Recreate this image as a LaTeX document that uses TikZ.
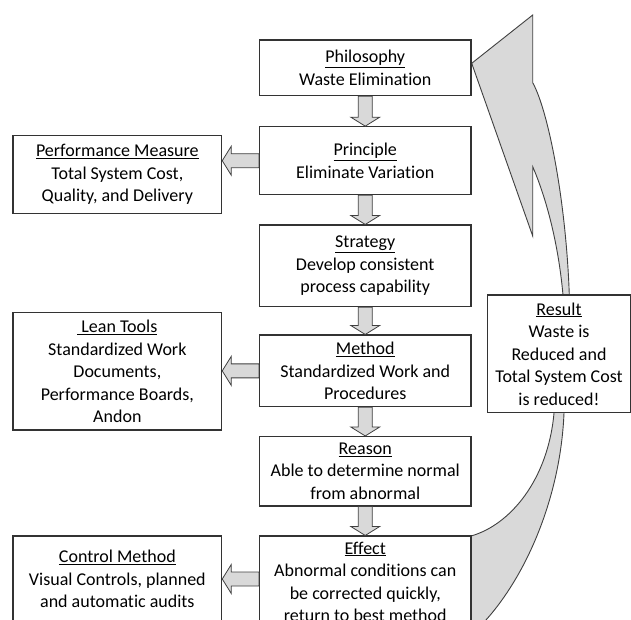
\documentclass[tikz,border=0pt]{standalone}
\usepackage{fontspec}
\setmainfont{Carlito}[Ligatures=NoCommon]
\usetikzlibrary{calc}
\definecolor{boxline}{HTML}{333333}
\definecolor{arrowline}{HTML}{404040}
\definecolor{arrowfill}{HTML}{D9D9D9}
\definecolor{ink}{HTML}{000000}
\tikzset{
  box/.style={draw=boxline, fill=white, line width=1.1pt, inner sep=0pt,
    align=center, text=ink, font=\fontsize{18}{22.5}\selectfont},
  fatarrow/.style={draw=arrowline, fill=arrowfill, line width=0.8pt, line join=miter,
    to path={
      let \p1=(\tikztostart), \p2=(\tikztotarget),
          \n1={atan2(\y2-\y1,\x2-\x1)}, \n2={veclen(\x2-\x1,\y2-\y1)} in
      {[shift={(\p1)}, rotate=\n1]
        (0pt,7pt) -- ({\n2*1pt-9pt},7pt) -- ({\n2*1pt-9pt},14.5pt) -- ({\n2*1pt},0pt)
        -- ({\n2*1pt-9pt},-14.5pt) -- ({\n2*1pt-9pt},-7pt) -- (0pt,-7pt) -- cycle}
    }},
  bigarrow/.style={draw=arrowline, fill=arrowfill, line width=0.9pt, line join=miter}
}
\begin{document}
\begin{tikzpicture}[x=1pt, y=-1pt]
\clip (0,0) rectangle (631,619);

% curved return arrow from the result back to the philosophy
\path[bigarrow] (471.7,63.3) -- (532.7,15) -- (532.7,82.7)
  .. controls (548,110) and (566,200) .. (569.3,295)
  -- (571,350) -- (564,413)
  .. controls (560,510) and (515,600) .. (465,640)
  -- (471,536)
  .. controls (510,525) and (548,480) .. (554,413)
  -- (563,295)
  .. controls (558,240) and (545,195) .. (532.7,166.7)
  -- (532.7,236) -- cycle;

% main chain
\node[box, minimum width=211.5, minimum height=55.7] (phil) at (365.25,67.85)
  {\underline{Philosophy}\\Waste Elimination};
\node[box, minimum width=211.5, minimum height=68] (prin) at (365.25,160.7)
  {\underline{Principle}\\Eliminate Variation};
\node[box, minimum width=211.5, minimum height=81.7] (strat) at (365.25,265.85)
  {\underline{Strategy}\\Develop consistent\\process capability};
\node[box, minimum width=211.5, minimum height=71.7] (meth) at (365.25,370.85)
  {\underline{Method}\\Standardized Work and\\Procedures};
\node[box, minimum width=211.5, minimum height=69.5] (reas) at (365.25,471.25)
  {\underline{Reason}\\Able to determine normal\\from abnormal};
\node[box, minimum width=211.5, minimum height=91.6] (eff) at (365.25,581.8)
  {\underline{Effect}\\Abnormal conditions can\\be corrected quickly,\\return to best method};

% side boxes
\node[box, minimum width=208.7, minimum height=77.6] (perf) at (117.35,174.5)
  {\underline{Performance Measure}\\Total System Cost,\\Quality, and Delivery};
\node[box, minimum width=208.7, minimum height=117.3] (lean) at (117.35,371.35)
  {\underline{\ Lean Tools}\\Standardized Work\\Documents,\\Performance Boards,\\Andon};
\node[box, minimum width=208.7, minimum height=86] (ctrl) at (117.35,579)
  {\underline{Control Method}\\Visual Controls, planned\\and automatic audits};
\node[box, minimum width=142.6, minimum height=117.7] (res) at (559,353.85)
  {\underline{Result}\\Waste is\\Reduced and\\Total System Cost\\is reduced!};

% block arrows between the boxes
\draw[fatarrow] (phil.south) to (prin.north);
\draw[fatarrow] (prin.south) to (strat.north);
\draw[fatarrow] (strat.south) to (meth.north);
\draw[fatarrow] (meth.south) to (reas.north);
\draw[fatarrow] (reas.south) to (eff.north);
\draw[fatarrow] (prin.west) to (perf.east |- prin.west);
\draw[fatarrow] (meth.west) to (lean.east |- meth.west);
\draw[fatarrow] (ctrl.east -| eff.west) to (ctrl.east);
\end{tikzpicture}
\end{document}
